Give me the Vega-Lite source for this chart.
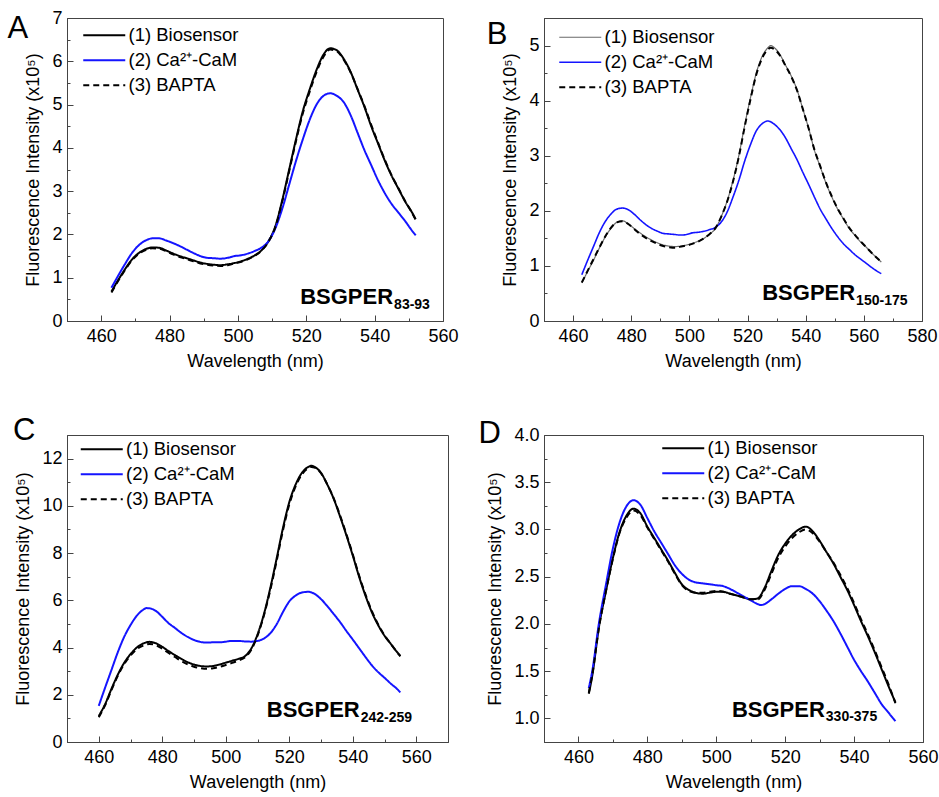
{
"$schema": "https://vega.github.io/schema/vega-lite/v6.json",
"padding": {"left": 7, "top": 8, "right": 0, "bottom": 0},
"background": "white",
"bounds": "flush",
"columns": 2,
"spacing": {"row": 114, "column": 96},
"resolve": {"scale": {"color": "independent", "strokeDash": "independent", "strokeWidth": "independent"}, "legend": {"color": "independent", "strokeDash": "independent", "strokeWidth": "independent"}},
"datasets": {
"A": [
{"w":463,"v":0.68,"s":"(1) Biosensor"},{"w":465,"v":0.95,"s":"(1) Biosensor"},{"w":467,"v":1.2,"s":"(1) Biosensor"},{"w":469,"v":1.42,"s":"(1) Biosensor"},{"w":471,"v":1.57,"s":"(1) Biosensor"},{"w":473,"v":1.66,"s":"(1) Biosensor"},{"w":475,"v":1.7,"s":"(1) Biosensor"},{"w":477,"v":1.69,"s":"(1) Biosensor"},{"w":479,"v":1.63,"s":"(1) Biosensor"},{"w":481,"v":1.56,"s":"(1) Biosensor"},{"w":483,"v":1.5,"s":"(1) Biosensor"},{"w":485,"v":1.45,"s":"(1) Biosensor"},{"w":487,"v":1.4,"s":"(1) Biosensor"},{"w":489,"v":1.35,"s":"(1) Biosensor"},{"w":491,"v":1.32,"s":"(1) Biosensor"},{"w":493,"v":1.3,"s":"(1) Biosensor"},{"w":495,"v":1.29,"s":"(1) Biosensor"},{"w":497,"v":1.31,"s":"(1) Biosensor"},{"w":499,"v":1.34,"s":"(1) Biosensor"},{"w":501,"v":1.38,"s":"(1) Biosensor"},{"w":503,"v":1.44,"s":"(1) Biosensor"},{"w":505,"v":1.52,"s":"(1) Biosensor"},{"w":507,"v":1.64,"s":"(1) Biosensor"},{"w":509,"v":1.85,"s":"(1) Biosensor"},{"w":511,"v":2.2,"s":"(1) Biosensor"},{"w":513,"v":2.8,"s":"(1) Biosensor"},{"w":515,"v":3.5,"s":"(1) Biosensor"},{"w":517,"v":4.2,"s":"(1) Biosensor"},{"w":519,"v":4.85,"s":"(1) Biosensor"},{"w":521,"v":5.35,"s":"(1) Biosensor"},{"w":523,"v":5.8,"s":"(1) Biosensor"},{"w":525,"v":6.15,"s":"(1) Biosensor"},{"w":527,"v":6.3,"s":"(1) Biosensor"},{"w":529,"v":6.25,"s":"(1) Biosensor"},{"w":531,"v":6.05,"s":"(1) Biosensor"},{"w":533,"v":5.75,"s":"(1) Biosensor"},{"w":535,"v":5.35,"s":"(1) Biosensor"},{"w":537,"v":4.95,"s":"(1) Biosensor"},{"w":539,"v":4.5,"s":"(1) Biosensor"},{"w":541,"v":4.1,"s":"(1) Biosensor"},{"w":543,"v":3.7,"s":"(1) Biosensor"},{"w":545,"v":3.35,"s":"(1) Biosensor"},{"w":547,"v":3.05,"s":"(1) Biosensor"},{"w":549,"v":2.75,"s":"(1) Biosensor"},{"w":551,"v":2.5,"s":"(1) Biosensor"},{"w":552,"v":2.35,"s":"(1) Biosensor"},
{"w":463,"v":0.77,"s":"(2) Ca²⁺-CaM"},{"w":465,"v":1.05,"s":"(2) Ca²⁺-CaM"},{"w":467,"v":1.32,"s":"(2) Ca²⁺-CaM"},{"w":469,"v":1.57,"s":"(2) Ca²⁺-CaM"},{"w":471,"v":1.75,"s":"(2) Ca²⁺-CaM"},{"w":473,"v":1.86,"s":"(2) Ca²⁺-CaM"},{"w":475,"v":1.91,"s":"(2) Ca²⁺-CaM"},{"w":477,"v":1.91,"s":"(2) Ca²⁺-CaM"},{"w":479,"v":1.86,"s":"(2) Ca²⁺-CaM"},{"w":481,"v":1.8,"s":"(2) Ca²⁺-CaM"},{"w":483,"v":1.73,"s":"(2) Ca²⁺-CaM"},{"w":485,"v":1.65,"s":"(2) Ca²⁺-CaM"},{"w":487,"v":1.57,"s":"(2) Ca²⁺-CaM"},{"w":489,"v":1.5,"s":"(2) Ca²⁺-CaM"},{"w":491,"v":1.46,"s":"(2) Ca²⁺-CaM"},{"w":493,"v":1.45,"s":"(2) Ca²⁺-CaM"},{"w":495,"v":1.44,"s":"(2) Ca²⁺-CaM"},{"w":497,"v":1.46,"s":"(2) Ca²⁺-CaM"},{"w":499,"v":1.5,"s":"(2) Ca²⁺-CaM"},{"w":501,"v":1.52,"s":"(2) Ca²⁺-CaM"},{"w":503,"v":1.56,"s":"(2) Ca²⁺-CaM"},{"w":505,"v":1.62,"s":"(2) Ca²⁺-CaM"},{"w":507,"v":1.7,"s":"(2) Ca²⁺-CaM"},{"w":509,"v":1.85,"s":"(2) Ca²⁺-CaM"},{"w":511,"v":2.15,"s":"(2) Ca²⁺-CaM"},{"w":513,"v":2.6,"s":"(2) Ca²⁺-CaM"},{"w":515,"v":3.15,"s":"(2) Ca²⁺-CaM"},{"w":517,"v":3.7,"s":"(2) Ca²⁺-CaM"},{"w":519,"v":4.2,"s":"(2) Ca²⁺-CaM"},{"w":521,"v":4.65,"s":"(2) Ca²⁺-CaM"},{"w":523,"v":5.0,"s":"(2) Ca²⁺-CaM"},{"w":525,"v":5.2,"s":"(2) Ca²⁺-CaM"},{"w":527,"v":5.26,"s":"(2) Ca²⁺-CaM"},{"w":529,"v":5.2,"s":"(2) Ca²⁺-CaM"},{"w":531,"v":5.05,"s":"(2) Ca²⁺-CaM"},{"w":533,"v":4.75,"s":"(2) Ca²⁺-CaM"},{"w":535,"v":4.35,"s":"(2) Ca²⁺-CaM"},{"w":537,"v":3.95,"s":"(2) Ca²⁺-CaM"},{"w":539,"v":3.6,"s":"(2) Ca²⁺-CaM"},{"w":541,"v":3.25,"s":"(2) Ca²⁺-CaM"},{"w":543,"v":2.95,"s":"(2) Ca²⁺-CaM"},{"w":545,"v":2.7,"s":"(2) Ca²⁺-CaM"},{"w":547,"v":2.5,"s":"(2) Ca²⁺-CaM"},{"w":549,"v":2.3,"s":"(2) Ca²⁺-CaM"},{"w":551,"v":2.08,"s":"(2) Ca²⁺-CaM"},{"w":552,"v":1.98,"s":"(2) Ca²⁺-CaM"},
{"w":463,"v":0.66,"s":"(3) BAPTA"},{"w":465,"v":0.93,"s":"(3) BAPTA"},{"w":467,"v":1.18,"s":"(3) BAPTA"},{"w":469,"v":1.4,"s":"(3) BAPTA"},{"w":471,"v":1.55,"s":"(3) BAPTA"},{"w":473,"v":1.64,"s":"(3) BAPTA"},{"w":475,"v":1.68,"s":"(3) BAPTA"},{"w":477,"v":1.67,"s":"(3) BAPTA"},{"w":479,"v":1.61,"s":"(3) BAPTA"},{"w":481,"v":1.54,"s":"(3) BAPTA"},{"w":483,"v":1.48,"s":"(3) BAPTA"},{"w":485,"v":1.43,"s":"(3) BAPTA"},{"w":487,"v":1.38,"s":"(3) BAPTA"},{"w":489,"v":1.33,"s":"(3) BAPTA"},{"w":491,"v":1.3,"s":"(3) BAPTA"},{"w":493,"v":1.28,"s":"(3) BAPTA"},{"w":495,"v":1.27,"s":"(3) BAPTA"},{"w":497,"v":1.29,"s":"(3) BAPTA"},{"w":499,"v":1.33,"s":"(3) BAPTA"},{"w":501,"v":1.37,"s":"(3) BAPTA"},{"w":503,"v":1.43,"s":"(3) BAPTA"},{"w":505,"v":1.51,"s":"(3) BAPTA"},{"w":507,"v":1.63,"s":"(3) BAPTA"},{"w":509,"v":1.84,"s":"(3) BAPTA"},{"w":511,"v":2.18,"s":"(3) BAPTA"},{"w":513,"v":2.77,"s":"(3) BAPTA"},{"w":515,"v":3.46,"s":"(3) BAPTA"},{"w":517,"v":4.16,"s":"(3) BAPTA"},{"w":519,"v":4.8,"s":"(3) BAPTA"},{"w":521,"v":5.3,"s":"(3) BAPTA"},{"w":523,"v":5.75,"s":"(3) BAPTA"},{"w":525,"v":6.1,"s":"(3) BAPTA"},{"w":527,"v":6.27,"s":"(3) BAPTA"},{"w":529,"v":6.23,"s":"(3) BAPTA"},{"w":531,"v":6.03,"s":"(3) BAPTA"},{"w":533,"v":5.74,"s":"(3) BAPTA"},{"w":535,"v":5.36,"s":"(3) BAPTA"},{"w":537,"v":4.97,"s":"(3) BAPTA"},{"w":539,"v":4.53,"s":"(3) BAPTA"},{"w":541,"v":4.12,"s":"(3) BAPTA"},{"w":543,"v":3.72,"s":"(3) BAPTA"},{"w":545,"v":3.36,"s":"(3) BAPTA"},{"w":547,"v":3.06,"s":"(3) BAPTA"},{"w":549,"v":2.76,"s":"(3) BAPTA"},{"w":551,"v":2.49,"s":"(3) BAPTA"},{"w":552,"v":2.34,"s":"(3) BAPTA"}
],
"B": [
{"w":463,"v":0.69,"s":"(1) Biosensor"},{"w":465,"v":0.9,"s":"(1) Biosensor"},{"w":467,"v":1.1,"s":"(1) Biosensor"},{"w":469,"v":1.32,"s":"(1) Biosensor"},{"w":471,"v":1.52,"s":"(1) Biosensor"},{"w":473,"v":1.68,"s":"(1) Biosensor"},{"w":475,"v":1.79,"s":"(1) Biosensor"},{"w":477,"v":1.82,"s":"(1) Biosensor"},{"w":479,"v":1.76,"s":"(1) Biosensor"},{"w":481,"v":1.68,"s":"(1) Biosensor"},{"w":483,"v":1.6,"s":"(1) Biosensor"},{"w":485,"v":1.53,"s":"(1) Biosensor"},{"w":487,"v":1.47,"s":"(1) Biosensor"},{"w":489,"v":1.42,"s":"(1) Biosensor"},{"w":491,"v":1.38,"s":"(1) Biosensor"},{"w":493,"v":1.36,"s":"(1) Biosensor"},{"w":495,"v":1.35,"s":"(1) Biosensor"},{"w":497,"v":1.36,"s":"(1) Biosensor"},{"w":499,"v":1.38,"s":"(1) Biosensor"},{"w":501,"v":1.41,"s":"(1) Biosensor"},{"w":503,"v":1.45,"s":"(1) Biosensor"},{"w":505,"v":1.5,"s":"(1) Biosensor"},{"w":507,"v":1.58,"s":"(1) Biosensor"},{"w":509,"v":1.68,"s":"(1) Biosensor"},{"w":511,"v":1.9,"s":"(1) Biosensor"},{"w":513,"v":2.18,"s":"(1) Biosensor"},{"w":515,"v":2.55,"s":"(1) Biosensor"},{"w":517,"v":3.0,"s":"(1) Biosensor"},{"w":519,"v":3.55,"s":"(1) Biosensor"},{"w":521,"v":4.05,"s":"(1) Biosensor"},{"w":523,"v":4.5,"s":"(1) Biosensor"},{"w":525,"v":4.8,"s":"(1) Biosensor"},{"w":527,"v":4.96,"s":"(1) Biosensor"},{"w":528,"v":5.0,"s":"(1) Biosensor"},{"w":529,"v":4.97,"s":"(1) Biosensor"},{"w":531,"v":4.85,"s":"(1) Biosensor"},{"w":533,"v":4.65,"s":"(1) Biosensor"},{"w":535,"v":4.45,"s":"(1) Biosensor"},{"w":537,"v":4.2,"s":"(1) Biosensor"},{"w":539,"v":3.85,"s":"(1) Biosensor"},{"w":541,"v":3.5,"s":"(1) Biosensor"},{"w":543,"v":3.1,"s":"(1) Biosensor"},{"w":545,"v":2.8,"s":"(1) Biosensor"},{"w":547,"v":2.5,"s":"(1) Biosensor"},{"w":549,"v":2.25,"s":"(1) Biosensor"},{"w":551,"v":2.03,"s":"(1) Biosensor"},{"w":553,"v":1.85,"s":"(1) Biosensor"},{"w":555,"v":1.68,"s":"(1) Biosensor"},{"w":557,"v":1.55,"s":"(1) Biosensor"},{"w":559,"v":1.43,"s":"(1) Biosensor"},{"w":561,"v":1.33,"s":"(1) Biosensor"},{"w":563,"v":1.22,"s":"(1) Biosensor"},{"w":565,"v":1.12,"s":"(1) Biosensor"},{"w":566,"v":1.07,"s":"(1) Biosensor"},
{"w":463,"v":0.84,"s":"(2) Ca²⁺-CaM"},{"w":465,"v":1.1,"s":"(2) Ca²⁺-CaM"},{"w":467,"v":1.35,"s":"(2) Ca²⁺-CaM"},{"w":469,"v":1.6,"s":"(2) Ca²⁺-CaM"},{"w":471,"v":1.8,"s":"(2) Ca²⁺-CaM"},{"w":473,"v":1.94,"s":"(2) Ca²⁺-CaM"},{"w":475,"v":2.03,"s":"(2) Ca²⁺-CaM"},{"w":477,"v":2.05,"s":"(2) Ca²⁺-CaM"},{"w":479,"v":2.02,"s":"(2) Ca²⁺-CaM"},{"w":481,"v":1.94,"s":"(2) Ca²⁺-CaM"},{"w":483,"v":1.84,"s":"(2) Ca²⁺-CaM"},{"w":485,"v":1.75,"s":"(2) Ca²⁺-CaM"},{"w":487,"v":1.68,"s":"(2) Ca²⁺-CaM"},{"w":489,"v":1.63,"s":"(2) Ca²⁺-CaM"},{"w":491,"v":1.59,"s":"(2) Ca²⁺-CaM"},{"w":493,"v":1.58,"s":"(2) Ca²⁺-CaM"},{"w":495,"v":1.57,"s":"(2) Ca²⁺-CaM"},{"w":497,"v":1.56,"s":"(2) Ca²⁺-CaM"},{"w":499,"v":1.57,"s":"(2) Ca²⁺-CaM"},{"w":501,"v":1.6,"s":"(2) Ca²⁺-CaM"},{"w":503,"v":1.61,"s":"(2) Ca²⁺-CaM"},{"w":505,"v":1.63,"s":"(2) Ca²⁺-CaM"},{"w":507,"v":1.66,"s":"(2) Ca²⁺-CaM"},{"w":509,"v":1.7,"s":"(2) Ca²⁺-CaM"},{"w":511,"v":1.8,"s":"(2) Ca²⁺-CaM"},{"w":513,"v":1.98,"s":"(2) Ca²⁺-CaM"},{"w":515,"v":2.25,"s":"(2) Ca²⁺-CaM"},{"w":517,"v":2.55,"s":"(2) Ca²⁺-CaM"},{"w":519,"v":2.9,"s":"(2) Ca²⁺-CaM"},{"w":521,"v":3.2,"s":"(2) Ca²⁺-CaM"},{"w":523,"v":3.45,"s":"(2) Ca²⁺-CaM"},{"w":525,"v":3.58,"s":"(2) Ca²⁺-CaM"},{"w":527,"v":3.63,"s":"(2) Ca²⁺-CaM"},{"w":529,"v":3.58,"s":"(2) Ca²⁺-CaM"},{"w":531,"v":3.48,"s":"(2) Ca²⁺-CaM"},{"w":533,"v":3.33,"s":"(2) Ca²⁺-CaM"},{"w":535,"v":3.13,"s":"(2) Ca²⁺-CaM"},{"w":537,"v":2.93,"s":"(2) Ca²⁺-CaM"},{"w":539,"v":2.7,"s":"(2) Ca²⁺-CaM"},{"w":541,"v":2.48,"s":"(2) Ca²⁺-CaM"},{"w":543,"v":2.25,"s":"(2) Ca²⁺-CaM"},{"w":545,"v":2.03,"s":"(2) Ca²⁺-CaM"},{"w":547,"v":1.85,"s":"(2) Ca²⁺-CaM"},{"w":549,"v":1.68,"s":"(2) Ca²⁺-CaM"},{"w":551,"v":1.53,"s":"(2) Ca²⁺-CaM"},{"w":553,"v":1.4,"s":"(2) Ca²⁺-CaM"},{"w":555,"v":1.3,"s":"(2) Ca²⁺-CaM"},{"w":557,"v":1.2,"s":"(2) Ca²⁺-CaM"},{"w":559,"v":1.12,"s":"(2) Ca²⁺-CaM"},{"w":561,"v":1.04,"s":"(2) Ca²⁺-CaM"},{"w":563,"v":0.96,"s":"(2) Ca²⁺-CaM"},{"w":565,"v":0.89,"s":"(2) Ca²⁺-CaM"},{"w":566,"v":0.86,"s":"(2) Ca²⁺-CaM"},
{"w":463,"v":0.7,"s":"(3) BAPTA"},{"w":465,"v":0.91,"s":"(3) BAPTA"},{"w":467,"v":1.12,"s":"(3) BAPTA"},{"w":469,"v":1.33,"s":"(3) BAPTA"},{"w":471,"v":1.53,"s":"(3) BAPTA"},{"w":473,"v":1.69,"s":"(3) BAPTA"},{"w":475,"v":1.79,"s":"(3) BAPTA"},{"w":477,"v":1.81,"s":"(3) BAPTA"},{"w":479,"v":1.76,"s":"(3) BAPTA"},{"w":481,"v":1.67,"s":"(3) BAPTA"},{"w":483,"v":1.58,"s":"(3) BAPTA"},{"w":485,"v":1.51,"s":"(3) BAPTA"},{"w":487,"v":1.45,"s":"(3) BAPTA"},{"w":489,"v":1.4,"s":"(3) BAPTA"},{"w":491,"v":1.36,"s":"(3) BAPTA"},{"w":493,"v":1.34,"s":"(3) BAPTA"},{"w":495,"v":1.33,"s":"(3) BAPTA"},{"w":497,"v":1.35,"s":"(3) BAPTA"},{"w":499,"v":1.37,"s":"(3) BAPTA"},{"w":501,"v":1.4,"s":"(3) BAPTA"},{"w":503,"v":1.44,"s":"(3) BAPTA"},{"w":505,"v":1.5,"s":"(3) BAPTA"},{"w":507,"v":1.58,"s":"(3) BAPTA"},{"w":509,"v":1.69,"s":"(3) BAPTA"},{"w":511,"v":1.9,"s":"(3) BAPTA"},{"w":513,"v":2.17,"s":"(3) BAPTA"},{"w":515,"v":2.53,"s":"(3) BAPTA"},{"w":517,"v":2.98,"s":"(3) BAPTA"},{"w":519,"v":3.52,"s":"(3) BAPTA"},{"w":521,"v":4.02,"s":"(3) BAPTA"},{"w":523,"v":4.47,"s":"(3) BAPTA"},{"w":525,"v":4.77,"s":"(3) BAPTA"},{"w":527,"v":4.93,"s":"(3) BAPTA"},{"w":528,"v":4.96,"s":"(3) BAPTA"},{"w":529,"v":4.94,"s":"(3) BAPTA"},{"w":531,"v":4.83,"s":"(3) BAPTA"},{"w":533,"v":4.64,"s":"(3) BAPTA"},{"w":535,"v":4.44,"s":"(3) BAPTA"},{"w":537,"v":4.19,"s":"(3) BAPTA"},{"w":539,"v":3.85,"s":"(3) BAPTA"},{"w":541,"v":3.5,"s":"(3) BAPTA"},{"w":543,"v":3.11,"s":"(3) BAPTA"},{"w":545,"v":2.81,"s":"(3) BAPTA"},{"w":547,"v":2.51,"s":"(3) BAPTA"},{"w":549,"v":2.26,"s":"(3) BAPTA"},{"w":551,"v":2.04,"s":"(3) BAPTA"},{"w":553,"v":1.86,"s":"(3) BAPTA"},{"w":555,"v":1.69,"s":"(3) BAPTA"},{"w":557,"v":1.56,"s":"(3) BAPTA"},{"w":559,"v":1.44,"s":"(3) BAPTA"},{"w":561,"v":1.33,"s":"(3) BAPTA"},{"w":563,"v":1.22,"s":"(3) BAPTA"},{"w":565,"v":1.12,"s":"(3) BAPTA"},{"w":566,"v":1.07,"s":"(3) BAPTA"}
],
"C": [
{"w":460,"v":1.1,"s":"(1) Biosensor"},{"w":462,"v":1.6,"s":"(1) Biosensor"},{"w":464,"v":2.25,"s":"(1) Biosensor"},{"w":466,"v":2.85,"s":"(1) Biosensor"},{"w":468,"v":3.35,"s":"(1) Biosensor"},{"w":470,"v":3.72,"s":"(1) Biosensor"},{"w":472,"v":4.0,"s":"(1) Biosensor"},{"w":474,"v":4.17,"s":"(1) Biosensor"},{"w":476,"v":4.24,"s":"(1) Biosensor"},{"w":478,"v":4.18,"s":"(1) Biosensor"},{"w":480,"v":4.03,"s":"(1) Biosensor"},{"w":482,"v":3.85,"s":"(1) Biosensor"},{"w":484,"v":3.68,"s":"(1) Biosensor"},{"w":486,"v":3.52,"s":"(1) Biosensor"},{"w":488,"v":3.38,"s":"(1) Biosensor"},{"w":490,"v":3.28,"s":"(1) Biosensor"},{"w":492,"v":3.22,"s":"(1) Biosensor"},{"w":494,"v":3.2,"s":"(1) Biosensor"},{"w":496,"v":3.22,"s":"(1) Biosensor"},{"w":498,"v":3.28,"s":"(1) Biosensor"},{"w":500,"v":3.36,"s":"(1) Biosensor"},{"w":502,"v":3.44,"s":"(1) Biosensor"},{"w":504,"v":3.52,"s":"(1) Biosensor"},{"w":506,"v":3.63,"s":"(1) Biosensor"},{"w":508,"v":3.95,"s":"(1) Biosensor"},{"w":510,"v":4.55,"s":"(1) Biosensor"},{"w":512,"v":5.4,"s":"(1) Biosensor"},{"w":514,"v":6.5,"s":"(1) Biosensor"},{"w":516,"v":7.75,"s":"(1) Biosensor"},{"w":518,"v":9.05,"s":"(1) Biosensor"},{"w":520,"v":10.15,"s":"(1) Biosensor"},{"w":522,"v":10.9,"s":"(1) Biosensor"},{"w":524,"v":11.4,"s":"(1) Biosensor"},{"w":526,"v":11.65,"s":"(1) Biosensor"},{"w":527,"v":11.7,"s":"(1) Biosensor"},{"w":528,"v":11.65,"s":"(1) Biosensor"},{"w":530,"v":11.4,"s":"(1) Biosensor"},{"w":532,"v":10.9,"s":"(1) Biosensor"},{"w":534,"v":10.3,"s":"(1) Biosensor"},{"w":536,"v":9.55,"s":"(1) Biosensor"},{"w":538,"v":8.75,"s":"(1) Biosensor"},{"w":540,"v":7.9,"s":"(1) Biosensor"},{"w":542,"v":7.0,"s":"(1) Biosensor"},{"w":544,"v":6.2,"s":"(1) Biosensor"},{"w":546,"v":5.5,"s":"(1) Biosensor"},{"w":548,"v":4.95,"s":"(1) Biosensor"},{"w":550,"v":4.5,"s":"(1) Biosensor"},{"w":552,"v":4.15,"s":"(1) Biosensor"},{"w":554,"v":3.8,"s":"(1) Biosensor"},{"w":555,"v":3.65,"s":"(1) Biosensor"},
{"w":460,"v":1.53,"s":"(2) Ca²⁺-CaM"},{"w":462,"v":2.3,"s":"(2) Ca²⁺-CaM"},{"w":464,"v":3.05,"s":"(2) Ca²⁺-CaM"},{"w":466,"v":3.8,"s":"(2) Ca²⁺-CaM"},{"w":468,"v":4.45,"s":"(2) Ca²⁺-CaM"},{"w":470,"v":4.95,"s":"(2) Ca²⁺-CaM"},{"w":472,"v":5.35,"s":"(2) Ca²⁺-CaM"},{"w":474,"v":5.6,"s":"(2) Ca²⁺-CaM"},{"w":475,"v":5.67,"s":"(2) Ca²⁺-CaM"},{"w":476,"v":5.66,"s":"(2) Ca²⁺-CaM"},{"w":478,"v":5.55,"s":"(2) Ca²⁺-CaM"},{"w":480,"v":5.3,"s":"(2) Ca²⁺-CaM"},{"w":482,"v":5.03,"s":"(2) Ca²⁺-CaM"},{"w":484,"v":4.83,"s":"(2) Ca²⁺-CaM"},{"w":486,"v":4.62,"s":"(2) Ca²⁺-CaM"},{"w":488,"v":4.45,"s":"(2) Ca²⁺-CaM"},{"w":490,"v":4.32,"s":"(2) Ca²⁺-CaM"},{"w":492,"v":4.24,"s":"(2) Ca²⁺-CaM"},{"w":494,"v":4.21,"s":"(2) Ca²⁺-CaM"},{"w":496,"v":4.22,"s":"(2) Ca²⁺-CaM"},{"w":498,"v":4.22,"s":"(2) Ca²⁺-CaM"},{"w":500,"v":4.25,"s":"(2) Ca²⁺-CaM"},{"w":502,"v":4.28,"s":"(2) Ca²⁺-CaM"},{"w":504,"v":4.28,"s":"(2) Ca²⁺-CaM"},{"w":506,"v":4.26,"s":"(2) Ca²⁺-CaM"},{"w":508,"v":4.25,"s":"(2) Ca²⁺-CaM"},{"w":510,"v":4.28,"s":"(2) Ca²⁺-CaM"},{"w":512,"v":4.38,"s":"(2) Ca²⁺-CaM"},{"w":514,"v":4.6,"s":"(2) Ca²⁺-CaM"},{"w":516,"v":4.98,"s":"(2) Ca²⁺-CaM"},{"w":518,"v":5.5,"s":"(2) Ca²⁺-CaM"},{"w":520,"v":5.95,"s":"(2) Ca²⁺-CaM"},{"w":522,"v":6.2,"s":"(2) Ca²⁺-CaM"},{"w":524,"v":6.33,"s":"(2) Ca²⁺-CaM"},{"w":526,"v":6.36,"s":"(2) Ca²⁺-CaM"},{"w":528,"v":6.27,"s":"(2) Ca²⁺-CaM"},{"w":530,"v":6.05,"s":"(2) Ca²⁺-CaM"},{"w":532,"v":5.75,"s":"(2) Ca²⁺-CaM"},{"w":534,"v":5.42,"s":"(2) Ca²⁺-CaM"},{"w":536,"v":5.08,"s":"(2) Ca²⁺-CaM"},{"w":538,"v":4.7,"s":"(2) Ca²⁺-CaM"},{"w":540,"v":4.34,"s":"(2) Ca²⁺-CaM"},{"w":542,"v":3.97,"s":"(2) Ca²⁺-CaM"},{"w":544,"v":3.6,"s":"(2) Ca²⁺-CaM"},{"w":546,"v":3.25,"s":"(2) Ca²⁺-CaM"},{"w":548,"v":2.96,"s":"(2) Ca²⁺-CaM"},{"w":550,"v":2.72,"s":"(2) Ca²⁺-CaM"},{"w":552,"v":2.47,"s":"(2) Ca²⁺-CaM"},{"w":554,"v":2.24,"s":"(2) Ca²⁺-CaM"},{"w":555,"v":2.1,"s":"(2) Ca²⁺-CaM"},
{"w":460,"v":1.05,"s":"(3) BAPTA"},{"w":462,"v":1.55,"s":"(3) BAPTA"},{"w":464,"v":2.2,"s":"(3) BAPTA"},{"w":466,"v":2.8,"s":"(3) BAPTA"},{"w":468,"v":3.3,"s":"(3) BAPTA"},{"w":470,"v":3.66,"s":"(3) BAPTA"},{"w":472,"v":3.93,"s":"(3) BAPTA"},{"w":474,"v":4.08,"s":"(3) BAPTA"},{"w":476,"v":4.15,"s":"(3) BAPTA"},{"w":478,"v":4.1,"s":"(3) BAPTA"},{"w":480,"v":3.95,"s":"(3) BAPTA"},{"w":482,"v":3.77,"s":"(3) BAPTA"},{"w":484,"v":3.6,"s":"(3) BAPTA"},{"w":486,"v":3.43,"s":"(3) BAPTA"},{"w":488,"v":3.29,"s":"(3) BAPTA"},{"w":490,"v":3.19,"s":"(3) BAPTA"},{"w":492,"v":3.13,"s":"(3) BAPTA"},{"w":494,"v":3.1,"s":"(3) BAPTA"},{"w":496,"v":3.12,"s":"(3) BAPTA"},{"w":498,"v":3.18,"s":"(3) BAPTA"},{"w":500,"v":3.26,"s":"(3) BAPTA"},{"w":502,"v":3.35,"s":"(3) BAPTA"},{"w":504,"v":3.45,"s":"(3) BAPTA"},{"w":506,"v":3.58,"s":"(3) BAPTA"},{"w":508,"v":3.9,"s":"(3) BAPTA"},{"w":510,"v":4.5,"s":"(3) BAPTA"},{"w":512,"v":5.35,"s":"(3) BAPTA"},{"w":514,"v":6.42,"s":"(3) BAPTA"},{"w":516,"v":7.65,"s":"(3) BAPTA"},{"w":518,"v":8.95,"s":"(3) BAPTA"},{"w":520,"v":10.05,"s":"(3) BAPTA"},{"w":522,"v":10.82,"s":"(3) BAPTA"},{"w":524,"v":11.33,"s":"(3) BAPTA"},{"w":526,"v":11.6,"s":"(3) BAPTA"},{"w":527,"v":11.65,"s":"(3) BAPTA"},{"w":528,"v":11.62,"s":"(3) BAPTA"},{"w":530,"v":11.38,"s":"(3) BAPTA"},{"w":532,"v":10.9,"s":"(3) BAPTA"},{"w":534,"v":10.32,"s":"(3) BAPTA"},{"w":536,"v":9.6,"s":"(3) BAPTA"},{"w":538,"v":8.8,"s":"(3) BAPTA"},{"w":540,"v":7.95,"s":"(3) BAPTA"},{"w":542,"v":7.05,"s":"(3) BAPTA"},{"w":544,"v":6.25,"s":"(3) BAPTA"},{"w":546,"v":5.55,"s":"(3) BAPTA"},{"w":548,"v":4.98,"s":"(3) BAPTA"},{"w":550,"v":4.52,"s":"(3) BAPTA"},{"w":552,"v":4.15,"s":"(3) BAPTA"},{"w":554,"v":3.8,"s":"(3) BAPTA"},{"w":555,"v":3.63,"s":"(3) BAPTA"}
],
"D": [
{"w":463,"v":1.26,"s":"(1) Biosensor"},{"w":464,"v":1.45,"s":"(1) Biosensor"},{"w":466,"v":1.98,"s":"(1) Biosensor"},{"w":468,"v":2.35,"s":"(1) Biosensor"},{"w":470,"v":2.7,"s":"(1) Biosensor"},{"w":472,"v":2.98,"s":"(1) Biosensor"},{"w":474,"v":3.15,"s":"(1) Biosensor"},{"w":476,"v":3.22,"s":"(1) Biosensor"},{"w":478,"v":3.17,"s":"(1) Biosensor"},{"w":480,"v":3.03,"s":"(1) Biosensor"},{"w":482,"v":2.91,"s":"(1) Biosensor"},{"w":484,"v":2.79,"s":"(1) Biosensor"},{"w":486,"v":2.67,"s":"(1) Biosensor"},{"w":488,"v":2.54,"s":"(1) Biosensor"},{"w":490,"v":2.42,"s":"(1) Biosensor"},{"w":492,"v":2.36,"s":"(1) Biosensor"},{"w":494,"v":2.33,"s":"(1) Biosensor"},{"w":496,"v":2.32,"s":"(1) Biosensor"},{"w":498,"v":2.33,"s":"(1) Biosensor"},{"w":500,"v":2.34,"s":"(1) Biosensor"},{"w":502,"v":2.34,"s":"(1) Biosensor"},{"w":504,"v":2.32,"s":"(1) Biosensor"},{"w":506,"v":2.3,"s":"(1) Biosensor"},{"w":508,"v":2.28,"s":"(1) Biosensor"},{"w":510,"v":2.26,"s":"(1) Biosensor"},{"w":512,"v":2.27,"s":"(1) Biosensor"},{"w":514,"v":2.38,"s":"(1) Biosensor"},{"w":516,"v":2.56,"s":"(1) Biosensor"},{"w":518,"v":2.73,"s":"(1) Biosensor"},{"w":520,"v":2.85,"s":"(1) Biosensor"},{"w":522,"v":2.94,"s":"(1) Biosensor"},{"w":524,"v":3.0,"s":"(1) Biosensor"},{"w":526,"v":3.03,"s":"(1) Biosensor"},{"w":528,"v":2.98,"s":"(1) Biosensor"},{"w":530,"v":2.88,"s":"(1) Biosensor"},{"w":532,"v":2.76,"s":"(1) Biosensor"},{"w":534,"v":2.64,"s":"(1) Biosensor"},{"w":536,"v":2.5,"s":"(1) Biosensor"},{"w":538,"v":2.36,"s":"(1) Biosensor"},{"w":540,"v":2.2,"s":"(1) Biosensor"},{"w":542,"v":2.03,"s":"(1) Biosensor"},{"w":544,"v":1.87,"s":"(1) Biosensor"},{"w":546,"v":1.7,"s":"(1) Biosensor"},{"w":548,"v":1.52,"s":"(1) Biosensor"},{"w":550,"v":1.34,"s":"(1) Biosensor"},{"w":552,"v":1.17,"s":"(1) Biosensor"},
{"w":463,"v":1.32,"s":"(2) Ca²⁺-CaM"},{"w":464,"v":1.5,"s":"(2) Ca²⁺-CaM"},{"w":466,"v":2.02,"s":"(2) Ca²⁺-CaM"},{"w":468,"v":2.42,"s":"(2) Ca²⁺-CaM"},{"w":470,"v":2.8,"s":"(2) Ca²⁺-CaM"},{"w":472,"v":3.08,"s":"(2) Ca²⁺-CaM"},{"w":474,"v":3.25,"s":"(2) Ca²⁺-CaM"},{"w":476,"v":3.31,"s":"(2) Ca²⁺-CaM"},{"w":478,"v":3.26,"s":"(2) Ca²⁺-CaM"},{"w":480,"v":3.12,"s":"(2) Ca²⁺-CaM"},{"w":482,"v":2.98,"s":"(2) Ca²⁺-CaM"},{"w":484,"v":2.86,"s":"(2) Ca²⁺-CaM"},{"w":486,"v":2.74,"s":"(2) Ca²⁺-CaM"},{"w":488,"v":2.62,"s":"(2) Ca²⁺-CaM"},{"w":490,"v":2.53,"s":"(2) Ca²⁺-CaM"},{"w":492,"v":2.47,"s":"(2) Ca²⁺-CaM"},{"w":494,"v":2.44,"s":"(2) Ca²⁺-CaM"},{"w":496,"v":2.43,"s":"(2) Ca²⁺-CaM"},{"w":498,"v":2.42,"s":"(2) Ca²⁺-CaM"},{"w":500,"v":2.41,"s":"(2) Ca²⁺-CaM"},{"w":502,"v":2.4,"s":"(2) Ca²⁺-CaM"},{"w":504,"v":2.37,"s":"(2) Ca²⁺-CaM"},{"w":506,"v":2.33,"s":"(2) Ca²⁺-CaM"},{"w":508,"v":2.29,"s":"(2) Ca²⁺-CaM"},{"w":510,"v":2.25,"s":"(2) Ca²⁺-CaM"},{"w":512,"v":2.21,"s":"(2) Ca²⁺-CaM"},{"w":513,"v":2.2,"s":"(2) Ca²⁺-CaM"},{"w":514,"v":2.21,"s":"(2) Ca²⁺-CaM"},{"w":516,"v":2.26,"s":"(2) Ca²⁺-CaM"},{"w":518,"v":2.32,"s":"(2) Ca²⁺-CaM"},{"w":520,"v":2.37,"s":"(2) Ca²⁺-CaM"},{"w":522,"v":2.4,"s":"(2) Ca²⁺-CaM"},{"w":524,"v":2.4,"s":"(2) Ca²⁺-CaM"},{"w":526,"v":2.37,"s":"(2) Ca²⁺-CaM"},{"w":528,"v":2.32,"s":"(2) Ca²⁺-CaM"},{"w":530,"v":2.24,"s":"(2) Ca²⁺-CaM"},{"w":532,"v":2.14,"s":"(2) Ca²⁺-CaM"},{"w":534,"v":2.03,"s":"(2) Ca²⁺-CaM"},{"w":536,"v":1.9,"s":"(2) Ca²⁺-CaM"},{"w":538,"v":1.76,"s":"(2) Ca²⁺-CaM"},{"w":540,"v":1.62,"s":"(2) Ca²⁺-CaM"},{"w":542,"v":1.5,"s":"(2) Ca²⁺-CaM"},{"w":544,"v":1.39,"s":"(2) Ca²⁺-CaM"},{"w":546,"v":1.27,"s":"(2) Ca²⁺-CaM"},{"w":548,"v":1.15,"s":"(2) Ca²⁺-CaM"},{"w":550,"v":1.06,"s":"(2) Ca²⁺-CaM"},{"w":552,"v":0.97,"s":"(2) Ca²⁺-CaM"},
{"w":463,"v":1.27,"s":"(3) BAPTA"},{"w":464,"v":1.46,"s":"(3) BAPTA"},{"w":466,"v":1.97,"s":"(3) BAPTA"},{"w":468,"v":2.35,"s":"(3) BAPTA"},{"w":470,"v":2.69,"s":"(3) BAPTA"},{"w":472,"v":2.97,"s":"(3) BAPTA"},{"w":474,"v":3.13,"s":"(3) BAPTA"},{"w":476,"v":3.2,"s":"(3) BAPTA"},{"w":478,"v":3.15,"s":"(3) BAPTA"},{"w":480,"v":3.02,"s":"(3) BAPTA"},{"w":482,"v":2.9,"s":"(3) BAPTA"},{"w":484,"v":2.78,"s":"(3) BAPTA"},{"w":486,"v":2.66,"s":"(3) BAPTA"},{"w":488,"v":2.53,"s":"(3) BAPTA"},{"w":490,"v":2.41,"s":"(3) BAPTA"},{"w":492,"v":2.35,"s":"(3) BAPTA"},{"w":494,"v":2.33,"s":"(3) BAPTA"},{"w":496,"v":2.33,"s":"(3) BAPTA"},{"w":498,"v":2.34,"s":"(3) BAPTA"},{"w":500,"v":2.35,"s":"(3) BAPTA"},{"w":502,"v":2.34,"s":"(3) BAPTA"},{"w":504,"v":2.32,"s":"(3) BAPTA"},{"w":506,"v":2.3,"s":"(3) BAPTA"},{"w":508,"v":2.28,"s":"(3) BAPTA"},{"w":510,"v":2.26,"s":"(3) BAPTA"},{"w":512,"v":2.26,"s":"(3) BAPTA"},{"w":514,"v":2.36,"s":"(3) BAPTA"},{"w":516,"v":2.53,"s":"(3) BAPTA"},{"w":518,"v":2.7,"s":"(3) BAPTA"},{"w":520,"v":2.82,"s":"(3) BAPTA"},{"w":522,"v":2.91,"s":"(3) BAPTA"},{"w":524,"v":2.97,"s":"(3) BAPTA"},{"w":526,"v":3.0,"s":"(3) BAPTA"},{"w":528,"v":2.96,"s":"(3) BAPTA"},{"w":530,"v":2.87,"s":"(3) BAPTA"},{"w":532,"v":2.76,"s":"(3) BAPTA"},{"w":534,"v":2.65,"s":"(3) BAPTA"},{"w":536,"v":2.52,"s":"(3) BAPTA"},{"w":538,"v":2.38,"s":"(3) BAPTA"},{"w":540,"v":2.22,"s":"(3) BAPTA"},{"w":542,"v":2.05,"s":"(3) BAPTA"},{"w":544,"v":1.89,"s":"(3) BAPTA"},{"w":546,"v":1.72,"s":"(3) BAPTA"},{"w":548,"v":1.54,"s":"(3) BAPTA"},{"w":550,"v":1.36,"s":"(3) BAPTA"},{"w":552,"v":1.16,"s":"(3) BAPTA"}
]
},
"concat": [
{
"width": 376, "height": 303,
"resolve": {"axis": {"x": "independent", "y": "independent"}},
"layer": [
{"data": {"name": "A"},
 "mark": {"type": "line", "interpolate": "monotone", "strokeWidth": 2},
 "encoding": {
  "x": {"field": "w", "type": "quantitative", "scale": {"domain": [450, 560], "nice": false, "zero": false},
        "axis": {"orient": "bottom", "title": "Wavelength (nm)", "values": [460,480,500,520,540,560], "format": "d"}},
  "y": {"field": "v", "type": "quantitative", "scale": {"domain": [0, 7], "nice": false},
        "axis": {"orient": "left", "title": "Fluorescence Intensity (x10⁵)", "values": [0,1,2,3,4,5,6,7], "format": "d"}},
  "color": {"field": "s", "type": "nominal", "scale": {"domain": ["(1) Biosensor", "(2) Ca²⁺-CaM", "(3) BAPTA"], "range": ["#000000", "#1414ff", "#000000"]},
            "legend": {"legendX": 28, "legendY": 8}},
  "strokeDash": {"field": "s", "type": "nominal", "scale": {"domain": ["(1) Biosensor", "(2) Ca²⁺-CaM", "(3) BAPTA"], "range": [[1,0],[1,0],[6,4]]},
            "legend": {"legendX": 28, "legendY": 8}}
 }},
{"data": {"values": [{}]}, "mark": {"type": "text", "fontWeight": "bold", "fontSize": 22, "align": "right", "baseline": "alphabetic"},
 "encoding": {"x": {"datum": 545.4, "type": "quantitative", "axis": {"orient": "bottom", "values": [450,470,490,510,530,550], "labels": false, "domain": false, "title": null, "tickSize": -3}},
              "y": {"datum": 0.4, "type": "quantitative", "axis": {"orient": "left", "values": [0.5,1.5,2.5,3.5,4.5,5.5,6.5], "labels": false, "domain": false, "title": null, "tickSize": -3}},
              "text": {"value": "BSGPER"}}},
{"data": {"values": [{}]}, "mark": {"type": "text", "fontWeight": "bold", "fontSize": 14, "align": "left", "baseline": "alphabetic", "dx": 1},
 "encoding": {"x": {"datum": 545.4, "type": "quantitative", "axis": null}, "y": {"datum": 0.285, "type": "quantitative", "axis": null}, "text": {"value": "83-93"}}},
{"data": {"values": [{}]}, "mark": {"type": "text", "fontSize": 31, "align": "left", "baseline": "alphabetic", "dx": -59.5, "dy": 20},
 "encoding": {"x": {"datum": 450, "type": "quantitative", "axis": null}, "y": {"datum": 7, "type": "quantitative", "axis": null}, "text": {"value": "A"}}}
]
},
{
"width": 378, "height": 303,
"resolve": {"axis": {"x": "independent", "y": "independent"}},
"layer": [
{"data": {"name": "B"},
 "mark": {"type": "line", "interpolate": "monotone"},
 "encoding": {
  "x": {"field": "w", "type": "quantitative", "scale": {"domain": [450, 580], "nice": false, "zero": false},
        "axis": {"orient": "bottom", "title": "Wavelength (nm)", "values": [460,480,500,520,540,560,580], "format": "d"}},
  "y": {"field": "v", "type": "quantitative", "scale": {"domain": [0, 5.5], "nice": false},
        "axis": {"orient": "left", "title": "Fluorescence Intensity (x10⁵)", "values": [0,1,2,3,4,5], "format": "d"}},
  "color": {"field": "s", "type": "nominal", "scale": {"domain": ["(1) Biosensor", "(2) Ca²⁺-CaM", "(3) BAPTA"], "range": ["#6a6a6a", "#1414ff", "#000000"]},
            "legend": {"legendX": 27, "legendY": 10}},
  "strokeDash": {"field": "s", "type": "nominal", "scale": {"domain": ["(1) Biosensor", "(2) Ca²⁺-CaM", "(3) BAPTA"], "range": [[1,0],[1,0],[6,4]]},
            "legend": {"legendX": 27, "legendY": 10}},
  "strokeWidth": {"field": "s", "type": "nominal", "scale": {"domain": ["(1) Biosensor", "(2) Ca²⁺-CaM", "(3) BAPTA"], "range": [1.2, 2, 2]},
            "legend": {"legendX": 27, "legendY": 10}}
 }},
{"data": {"values": [{}]}, "mark": {"type": "text", "fontWeight": "bold", "fontSize": 22, "align": "right", "baseline": "alphabetic"},
 "encoding": {"x": {"datum": 557.0, "type": "quantitative", "axis": {"orient": "bottom", "values": [450,470,490,510,530,550,570], "labels": false, "domain": false, "title": null, "tickSize": -3}},
              "y": {"datum": 0.373, "type": "quantitative", "axis": {"orient": "left", "values": [0.5,1.5,2.5,3.5,4.5,5.5], "labels": false, "domain": false, "title": null, "tickSize": -3}},
              "text": {"value": "BSGPER"}}},
{"data": {"values": [{}]}, "mark": {"type": "text", "fontWeight": "bold", "fontSize": 14, "align": "left", "baseline": "alphabetic", "dx": 1},
 "encoding": {"x": {"datum": 557.0, "type": "quantitative", "axis": null}, "y": {"datum": 0.295, "type": "quantitative", "axis": null}, "text": {"value": "150-175"}}},
{"data": {"values": [{}]}, "mark": {"type": "text", "fontSize": 31, "align": "left", "baseline": "alphabetic", "dx": -57.3, "dy": 25.7},
 "encoding": {"x": {"datum": 450, "type": "quantitative", "axis": null}, "y": {"datum": 5.5, "type": "quantitative", "axis": null}, "text": {"value": "B"}}}
]
},
{
"width": 381, "height": 307,
"resolve": {"axis": {"x": "independent", "y": "independent"}},
"layer": [
{"data": {"name": "C"},
 "mark": {"type": "line", "interpolate": "monotone", "strokeWidth": 2},
 "encoding": {
  "x": {"field": "w", "type": "quantitative", "scale": {"domain": [450, 570], "nice": false, "zero": false},
        "axis": {"orient": "bottom", "title": "Wavelength (nm)", "values": [460,480,500,520,540,560], "format": "d"}},
  "y": {"field": "v", "type": "quantitative", "scale": {"domain": [0, 13], "nice": false},
        "axis": {"orient": "left", "title": "Fluorescence Intensity (x10⁵)", "values": [0,2,4,6,8,10,12], "format": "d"}},
  "color": {"field": "s", "type": "nominal", "scale": {"domain": ["(1) Biosensor", "(2) Ca²⁺-CaM", "(3) BAPTA"], "range": ["#000000", "#1414ff", "#000000"]},
            "legend": {"legendX": 25.5, "legendY": 5}},
  "strokeDash": {"field": "s", "type": "nominal", "scale": {"domain": ["(1) Biosensor", "(2) Ca²⁺-CaM", "(3) BAPTA"], "range": [[1,0],[1,0],[6,4]]},
            "legend": {"legendX": 25.5, "legendY": 5}}
 }},
{"data": {"values": [{}]}, "mark": {"type": "text", "fontWeight": "bold", "fontSize": 22, "align": "right", "baseline": "alphabetic"},
 "encoding": {"x": {"datum": 542.2, "type": "quantitative", "axis": {"orient": "bottom", "values": [450,470,490,510,530,550,570], "labels": false, "domain": false, "title": null, "tickSize": -3}},
              "y": {"datum": 1.06, "type": "quantitative", "axis": {"orient": "left", "values": [1,3,5,7,9,11,13], "labels": false, "domain": false, "title": null, "tickSize": -3}},
              "text": {"value": "BSGPER"}}},
{"data": {"values": [{}]}, "mark": {"type": "text", "fontWeight": "bold", "fontSize": 14, "align": "left", "baseline": "alphabetic", "dx": 1},
 "encoding": {"x": {"datum": 542.2, "type": "quantitative", "axis": null}, "y": {"datum": 0.85, "type": "quantitative", "axis": null}, "text": {"value": "242-259"}}},
{"data": {"values": [{}]}, "mark": {"type": "text", "fontSize": 31, "align": "left", "baseline": "alphabetic", "dx": -54, "dy": 5},
 "encoding": {"x": {"datum": 450, "type": "quantitative", "axis": null}, "y": {"datum": 13, "type": "quantitative", "axis": null}, "text": {"value": "C"}}}
]
},
{
"width": 379, "height": 307,
"resolve": {"axis": {"x": "independent", "y": "independent"}},
"layer": [
{"data": {"name": "D"},
 "mark": {"type": "line", "interpolate": "monotone", "strokeWidth": 2},
 "encoding": {
  "x": {"field": "w", "type": "quantitative", "scale": {"domain": [450, 560], "nice": false, "zero": false},
        "axis": {"orient": "bottom", "title": "Wavelength (nm)", "values": [460,480,500,520,540,560], "format": "d"}},
  "y": {"field": "v", "type": "quantitative", "scale": {"domain": [0.75, 4], "nice": false, "zero": false},
        "axis": {"orient": "left", "title": "Fluorescence Intensity (x10⁵)", "values": [1,1.5,2,2.5,3,3.5,4], "format": ".1f"}},
  "color": {"field": "s", "type": "nominal", "scale": {"domain": ["(1) Biosensor", "(2) Ca²⁺-CaM", "(3) BAPTA"], "range": ["#000000", "#1414ff", "#000000"]},
            "legend": {"legendX": 130, "legendY": 4}},
  "strokeDash": {"field": "s", "type": "nominal", "scale": {"domain": ["(1) Biosensor", "(2) Ca²⁺-CaM", "(3) BAPTA"], "range": [[1,0],[1,0],[6,4]]},
            "legend": {"legendX": 130, "legendY": 4}}
 }},
{"data": {"values": [{}]}, "mark": {"type": "text", "fontWeight": "bold", "fontSize": 22, "align": "right", "baseline": "alphabetic"},
 "encoding": {"x": {"datum": 531.5, "type": "quantitative", "axis": {"orient": "bottom", "values": [450,470,490,510,530,550], "labels": false, "domain": false, "title": null, "tickSize": -3}},
              "y": {"datum": 1.018, "type": "quantitative", "axis": {"orient": "left", "values": [1.25,1.75,2.25,2.75,3.25,3.75], "labels": false, "domain": false, "title": null, "tickSize": -3}},
              "text": {"value": "BSGPER"}}},
{"data": {"values": [{}]}, "mark": {"type": "text", "fontWeight": "bold", "fontSize": 14, "align": "left", "baseline": "alphabetic", "dx": 1},
 "encoding": {"x": {"datum": 531.5, "type": "quantitative", "axis": null}, "y": {"datum": 0.972, "type": "quantitative", "axis": null}, "text": {"value": "330-375"}}},
{"data": {"values": [{}]}, "mark": {"type": "text", "fontSize": 31, "align": "left", "baseline": "alphabetic", "dx": -65.5, "dy": 7.7},
 "encoding": {"x": {"datum": 450, "type": "quantitative", "axis": null}, "y": {"datum": 4, "type": "quantitative", "axis": null}, "text": {"value": "D"}}}
]
}
],
"config": {
 "font": "Liberation Sans",
 "view": {"stroke": "#444444", "strokeWidth": 1},
 "axis": {"grid": false, "domainColor": "#444444", "tickColor": "#444444", "tickWidth": 1, "tickSize": -6, "labelFontSize": 18, "titleFontSize": 18, "titleFontWeight": "normal", "labelColor": "#000000", "titleColor": "#000000", "labelFont": "Liberation Sans", "titleFont": "Liberation Sans", "labelOverlap": false, "labelFlush": false, "labelPadding": 5, "titlePadding": 7},
 "axisX": {"labelPadding": 12},
 "axisY": {"labelPadding": 11, "titlePadding": 9},
 "legend": {"orient": "none", "title": null, "symbolType": "M-4.2,0H4.2", "symbolSize": 100, "symbolStrokeWidth": 2, "labelFontSize": 18.5, "labelFont": "Liberation Sans", "labelColor": "#000000", "rowPadding": 6, "labelOffset": 15, "padding": 0},
 "text": {"font": "Liberation Sans", "color": "#000000"}
}
}
